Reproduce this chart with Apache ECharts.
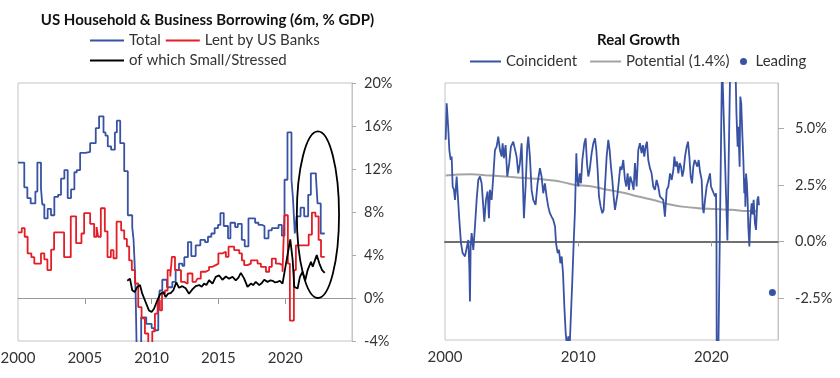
<!DOCTYPE html>
<html><head><meta charset="utf-8">
<script src="https://cdn.jsdelivr.net/npm/echarts@6/dist/echarts.min.js"></script>
<style>html,body{margin:0;padding:0;background:#fff}#c{width:840px;height:378px}</style>
</head><body><div id="c"></div>
<script>
// ---------- Left chart: US Household & Business Borrowing (6m, % GDP) ----------
const leftXLabels = [2000, 2005, 2010, 2015, 2020];
const leftXTicks = [2005, 2010, 2015, 2020];
const totalData = [[2000.0,12.6],[2000.47,10.3],[2000.7,9.3],[2000.95,8.8],[2001.3,9.9],[2001.45,12.6],[2001.72,10.2],[2001.82,8.7],[2001.97,7.4],[2002.22,8.3],[2002.47,7.7],[2002.72,9.4],[2003.0,9.6],[2003.22,11.1],[2003.47,11.9],[2003.72,9.3],[2003.97,10.1],[2004.22,11.7],[2004.4,11.9],[2004.65,13.5],[2005.05,13.6],[2005.4,14.4],[2005.82,15.8],[2006.07,16.9],[2006.4,15.4],[2006.55,15.1],[2006.72,14.1],[2006.97,13.8],[2007.25,15.4],[2007.4,16.5],[2007.65,14.4],[2007.95,11.8],[2008.22,7.7],[2008.55,6.6],[2008.65,5.4],[2008.72,3.5],[2008.8,0.7],[2008.9,-6],[2009.22,-1.8],[2009.6,-2.4],[2010.0,-2.8],[2010.2,-3.0],[2010.5,-0.9],[2010.6,0.7],[2010.8,1.7],[2011.15,1.0],[2011.55,1.5],[2011.8,2.6],[2012.05,3.2],[2012.3,3.0],[2012.45,3.8],[2012.72,5.2],[2012.97,3.9],[2013.3,4.9],[2013.65,5.4],[2014.0,5.2],[2014.22,5.7],[2014.47,6.0],[2014.72,6.5],[2014.97,6.8],[2015.15,7.9],[2015.4,6.7],[2015.72,5.55],[2015.9,7.0],[2016.25,6.6],[2016.45,6.9],[2016.75,5.4],[2016.97,4.8],[2017.25,7.4],[2017.75,7.0],[2018.0,6.8],[2018.25,6.7],[2018.45,5.55],[2018.75,6.3],[2019.0,6.5],[2019.5,6.8],[2019.75,5.8],[2019.95,11.0],[2020.17,15.4],[2020.47,11.0],[2020.58,9.3],[2020.72,6.0],[2020.85,7.6],[2021.15,8.4],[2021.42,7.6],[2021.72,9.6],[2021.92,11.6],[2022.3,11.3],[2022.42,8.8],[2022.66,6.0],[2022.96,6.0]];
const banksData = [[2000.0,6.1],[2000.28,6.5],[2000.5,5.7],[2000.72,4.15],[2001.0,3.8],[2001.22,3.2],[2001.72,4.15],[2001.97,3.6],[2002.2,2.6],[2002.48,4.5],[2002.7,6.1],[2003.45,3.8],[2003.95,7.6],[2004.35,5.1],[2004.75,6.0],[2004.95,7.9],[2005.4,6.9],[2005.7,5.7],[2005.88,6.6],[2006.0,5.7],[2006.2,8.35],[2006.5,6.2],[2006.7,3.8],[2006.95,4.45],[2007.15,3.7],[2007.38,7.1],[2007.72,6.3],[2007.95,5.5],[2008.15,4.8],[2008.32,3.5],[2008.52,2.6],[2008.75,1.35],[2009.0,-0.84],[2009.25,-1.9],[2009.5,-3.3],[2009.75,-5.5],[2010.05,-3.1],[2010.25,-1.46],[2010.45,-0.2],[2010.62,-1.15],[2010.78,0.4],[2011.0,0.7],[2011.2,2.6],[2011.4,2.0],[2011.52,3.83],[2011.75,2.6],[2012.0,2.6],[2012.2,1.5],[2012.45,1.34],[2012.7,2.28],[2013.06,1.5],[2013.3,1.34],[2013.43,1.8],[2013.68,2.44],[2014.06,2.6],[2014.3,2.9],[2014.56,3.06],[2014.8,3.2],[2015.0,4.15],[2015.3,4.3],[2015.56,3.83],[2015.76,4.77],[2016.18,4.46],[2016.56,4.15],[2016.76,3.5],[2016.93,3.06],[2017.18,3.2],[2017.43,3.5],[2017.93,3.2],[2018.18,2.9],[2018.56,2.44],[2018.8,2.9],[2019.0,3.67],[2019.3,3.2],[2019.56,3.06],[2019.8,2.44],[2019.94,7.7],[2020.2,3.2],[2020.35,-2.1],[2020.65,2.6],[2020.8,4.9],[2021.76,5.9],[2022.0,7.95],[2022.26,7.6],[2022.5,5.4],[2022.68,3.83],[2022.96,3.83]];
const stressedData = [[2008.18,1.6],[2008.38,1.8],[2008.55,0.72],[2008.73,0.56],[2008.93,1.03],[2009.13,1.2],[2009.3,0.4],[2009.55,-0.37],[2009.8,-1.15],[2010.0,-1.3],[2010.18,-1.0],[2010.38,-0.37],[2010.63,0.34],[2010.88,0.56],[2011.05,0.09],[2011.23,0.4],[2011.43,0.45],[2011.63,0.72],[2011.85,1.45],[2012.05,0.95],[2012.3,1.1],[2012.55,0.9],[2012.8,0.4],[2013.05,0.8],[2013.3,1.1],[2013.56,1.2],[2013.75,1.05],[2013.93,1.34],[2014.1,1.2],[2014.3,1.65],[2014.56,1.34],[2014.8,1.97],[2015.06,2.1],[2015.3,1.7],[2015.56,2.0],[2015.8,1.8],[2016.06,1.97],[2016.3,1.65],[2016.5,1.9],[2016.68,2.34],[2016.93,1.8],[2017.18,1.03],[2017.43,1.34],[2017.6,1.2],[2017.8,1.5],[2018.06,1.2],[2018.25,1.4],[2018.43,1.7],[2018.68,1.5],[2018.9,1.65],[2019.06,1.6],[2019.25,1.45],[2019.43,1.5],[2019.6,1.6],[2019.8,1.34],[2020.06,3.2],[2020.38,5.46],[2020.56,3.5],[2020.68,1.03],[2020.93,0.88],[2021.1,1.97],[2021.3,2.44],[2021.5,1.65],[2021.68,2.6],[2021.93,3.37],[2022.06,2.9],[2022.36,3.99],[2022.56,3.2],[2022.76,2.6],[2022.96,2.34]];
// highlight ellipse: [centre year, centre value, half-width (years), half-height (pp)]
const ellipseData = [[2022.45, 7.75, 1.58, 7.75]];

// ---------- Right chart: Real Growth ----------
const rightXLabels = [2000, 2010, 2020];
const rightXTicks = [2010, 2020];
const rightYTicks = [-2.5, 0, 2.5, 5];
const coincidentData = [[2000.05,4.49],[2000.125,6.10],[2000.175,5.66],[2000.25,4.93],[2000.325,4.04],[2000.425,3.60],[2000.5,3.75],[2000.575,2.43],[2000.675,2.28],[2000.75,1.84],[2000.875,2.87],[2000.95,2.13],[2001.075,0.96],[2001.2,-0.07],[2001.325,-0.51],[2001.5,-0.66],[2001.625,-0.29],[2001.75,0.07],[2001.825,-1.10],[2001.875,-2.65],[2001.925,-0.22],[2002.0,0.37],[2002.125,-0.37],[2002.25,0.66],[2002.375,1.84],[2002.5,2.72],[2002.625,2.87],[2002.75,2.57],[2002.875,1.54],[2002.95,0.88],[2003.075,1.84],[2003.2,2.21],[2003.3,1.03],[2003.375,2.28],[2003.5,1.84],[2003.625,2.87],[2003.75,4.04],[2003.875,4.19],[2004.0,4.63],[2004.125,4.04],[2004.25,3.75],[2004.325,4.34],[2004.425,3.68],[2004.55,4.26],[2004.675,2.87],[2004.825,3.46],[2004.95,4.19],[2005.125,4.41],[2005.25,4.49],[2005.375,3.75],[2005.5,3.01],[2005.625,3.46],[2005.75,4.34],[2005.825,3.01],[2005.925,1.03],[2006.05,2.43],[2006.175,4.19],[2006.25,4.63],[2006.375,3.75],[2006.5,2.28],[2006.625,1.84],[2006.8,1.62],[2006.95,2.57],[2007.125,3.24],[2007.25,2.87],[2007.375,2.13],[2007.5,2.57],[2007.625,1.99],[2007.75,1.54],[2007.875,1.25],[2008.0,1.10],[2008.125,0.96],[2008.26,0.66],[2008.335,-0.07],[2008.46,-0.51],[2008.56,-0.37],[2008.66,-0.96],[2008.76,-0.66],[2008.86,-1.40],[2008.96,-2.87],[2009.06,-4.04],[2009.16,-4.63],[2009.26,-4.19],[2009.36,-4.63],[2009.46,-3.16],[2009.56,-1.69],[2009.66,-0.07],[2009.76,1.40],[2009.86,3.90],[2009.935,2.72],[2010.01,2.43],[2010.11,3.01],[2010.21,2.57],[2010.31,3.60],[2010.46,4.34],[2010.56,4.56],[2010.66,3.46],[2010.76,2.87],[2010.86,3.16],[2011.01,3.90],[2011.135,4.34],[2011.26,4.56],[2011.36,4.04],[2011.46,3.16],[2011.56,1.99],[2011.685,1.54],[2011.81,1.25],[2011.91,1.40],[2012.01,2.43],[2012.135,3.75],[2012.26,4.49],[2012.36,4.04],[2012.46,3.31],[2012.56,2.72],[2012.66,1.99],[2012.76,1.40],[2012.86,1.32],[2012.96,2.13],[2013.06,2.72],[2013.16,3.31],[2013.26,3.16],[2013.385,3.60],[2013.51,2.72],[2013.61,2.43],[2013.71,3.01],[2013.81,2.28],[2013.91,2.87],[2014.06,2.57],[2014.16,2.28],[2014.26,3.46],[2014.385,2.43],[2014.51,4.04],[2014.635,4.34],[2014.76,3.90],[2014.86,4.26],[2014.96,3.75],[2015.06,4.19],[2015.16,4.41],[2015.26,3.60],[2015.385,3.24],[2015.51,3.01],[2015.635,2.43],[2015.76,2.28],[2015.885,2.72],[2016.01,2.43],[2016.135,1.99],[2016.26,2.06],[2016.385,1.84],[2016.51,1.10],[2016.645,2.28],[2016.77,2.43],[2016.895,3.01],[2017.02,2.72],[2017.145,3.16],[2017.22,3.75],[2017.32,3.31],[2017.42,3.53],[2017.52,3.01],[2017.62,3.46],[2017.72,3.31],[2017.82,2.87],[2017.92,3.16],[2018.02,3.75],[2018.145,4.19],[2018.245,4.41],[2018.345,3.75],[2018.445,2.87],[2018.545,2.57],[2018.645,3.31],[2018.745,3.60],[2018.845,3.46],[2018.945,3.31],[2019.045,3.60],[2019.145,3.09],[2019.27,2.72],[2019.345,1.54],[2019.42,1.25],[2019.52,1.84],[2019.645,2.43],[2019.77,2.72],[2019.895,3.01],[2019.97,2.43],[2020.07,2.28],[2020.17,2.13],[2020.27,1.99],[2020.345,2.13],[2020.38,0.5],[2020.41,-8],[2020.5,-8],[2020.52,-5],[2020.8,8],[2020.93,8],[2021.2,0.05],[2021.42,8],[2021.8,8],[2021.88,5.66],[2021.97,4.19],[2022.02,5.07],[2022.07,4.2],[2022.12,3.3],[2022.17,6.4],[2022.24,6.1],[2022.32,4.78],[2022.4,3.6],[2022.47,2.13],[2022.52,2.8],[2022.55,1.54],[2022.6,3.0],[2022.66,2.6],[2022.72,1.84],[2022.77,0.66],[2022.85,-0.22],[2022.92,0.96],[2023.02,1.69],[2023.1,1.2],[2023.17,1.84],[2023.27,0.8],[2023.35,0.51],[2023.45,1.84],[2023.52,1.99],[2023.57,1.6]];
const potentialData = [[2000.05,2.91],[2001.0,2.96],[2002.0,2.97],[2003.0,2.93],[2004.5,2.87],[2006.0,2.8],[2007.1,2.76],[2008.3,2.68],[2009.0,2.6],[2009.8,2.5],[2010.8,2.45],[2012.0,2.31],[2013.3,2.16],[2014.5,1.99],[2015.8,1.81],[2016.5,1.69],[2017.0,1.62],[2017.8,1.54],[2019.0,1.47],[2020.3,1.43],[2021.5,1.4],[2022.8,1.35],[2023.4,1.35]];
const leadingData = [[2024.58, -2.25]];

const BLUE = '#3953a4', RED = '#e41e26', BLACK = '#000000', GREY = '#a3a3a3';
const FONT = 'Lato';
const xText = {fontFamily: FONT, fontSize: 15, color: '#333'};
const yText = {fontFamily: FONT, fontSize: 14.5, color: '#333'};
const legendText = {fontFamily: FONT, fontSize: 15, color: '#333'};
const borderCol = '#c4c4c4';

const chart = echarts.init(document.getElementById('c'), null, {renderer: 'canvas'});
chart.setOption({
  animation: false,
  backgroundColor: '#fff',
  graphic: [
    {type: 'text', x: 207.5, y: 20.5, style: {text: 'US Household & Business Borrowing (6m, % GDP)', align: 'center', verticalAlign: 'middle', fontFamily: FONT, fontSize: 15, fontWeight: 'bold', fill: '#111'}},
    {type: 'text', x: 638.5, y: 40.5, style: {text: 'Real Growth', align: 'center', verticalAlign: 'middle', fontFamily: FONT, fontSize: 15, fontWeight: 'bold', fill: '#111'}}
  ],
  legend: [
    {data: ['Total', 'Lent by US Banks'], left: 90, top: 33, padding: 0, icon: 'rect', itemWidth: 34, itemHeight: 2, itemGap: 5, selectedMode: false, textStyle: legendText},
    {data: ['of which Small/Stressed'], left: 90, top: 53, padding: 0, icon: 'rect', itemWidth: 34, itemHeight: 2, selectedMode: false, textStyle: legendText},
    {data: ['Coincident', 'Potential (1.4%)'], left: 470, top: 54, padding: 0, icon: 'rect', itemWidth: 31, itemHeight: 2, itemGap: 13, selectedMode: false, textStyle: legendText},
    {data: ['Leading'], left: 740, top: 54, padding: 0, icon: 'circle', itemWidth: 14, itemHeight: 7, selectedMode: false, textStyle: legendText}
  ],
  grid: [
    {left: 18, top: 83, width: 334, height: 258, show: true, borderColor: borderCol, borderWidth: 1, containLabel: false, outerBoundsMode: 'none'},
    {left: 445, top: 83, width: 333, height: 257, show: true, borderColor: borderCol, borderWidth: 1, containLabel: false, outerBoundsMode: 'none'}
  ],
  xAxis: [
    {gridIndex: 0, type: 'value', min: 2000, max: 2025, position: 'bottom',
     axisLine: {show: false, onZero: false}, axisTick: {show: false}, splitLine: {show: false},
     axisLabel: Object.assign({customValues: leftXLabels, margin: 10, formatter: v => String(v)}, xText)},
    {gridIndex: 0, type: 'value', min: 2000, max: 2025, position: 'top',
     axisLine: {show: true, onZero: true, lineStyle: {color: '#9a9a9a', width: 1}},
     axisTick: {show: true, inside: true, length: 6, customValues: leftXTicks, lineStyle: {color: '#9a9a9a'}},
     axisLabel: {show: false}, splitLine: {show: false}},
    {gridIndex: 1, type: 'value', min: 2000, max: 2025, position: 'bottom',
     axisLine: {show: false, onZero: false}, axisTick: {show: false}, splitLine: {show: false},
     axisLabel: Object.assign({customValues: rightXLabels, margin: 10, formatter: v => String(v)}, xText)},
    {gridIndex: 1, type: 'value', min: 2000, max: 2025, position: 'top',
     axisLine: {show: true, onZero: true, lineStyle: {color: '#707070', width: 2}},
     axisTick: {show: true, inside: true, length: 5, customValues: rightXTicks, lineStyle: {color: '#9a9a9a'}},
     axisLabel: {show: false}, splitLine: {show: false}}
  ],
  yAxis: [
    {gridIndex: 0, type: 'value', position: 'right', min: -4, max: 20, interval: 4,
     axisLine: {show: true, onZero: false, lineStyle: {color: borderCol}},
     axisTick: {show: true, length: 4, lineStyle: {color: '#aaa'}},
     axisLabel: Object.assign({margin: 12, formatter: '{value}%'}, yText), splitLine: {show: false}},
    {gridIndex: 1, type: 'value', position: 'right', min: -4.35, max: 7,
     axisLine: {show: true, onZero: false, lineStyle: {color: borderCol}},
     axisTick: {show: true, length: 6, customValues: rightYTicks, lineStyle: {color: '#aaa'}},
     axisLabel: Object.assign({margin: 17, customValues: rightYTicks, formatter: v => v.toFixed(1) + '%'}, yText), splitLine: {show: false}}
  ],
  series: [
    {name: 'Total', type: 'line', xAxisIndex: 0, yAxisIndex: 0, data: totalData, step: 'end', symbol: 'none', lineStyle: {color: BLUE, width: 1.8}, itemStyle: {color: BLUE}, z: 3},
    {name: 'Lent by US Banks', type: 'line', xAxisIndex: 0, yAxisIndex: 0, data: banksData, step: 'end', symbol: 'none', lineStyle: {color: RED, width: 1.8}, itemStyle: {color: RED}, z: 4},
    {name: 'of which Small/Stressed', type: 'line', xAxisIndex: 0, yAxisIndex: 0, data: stressedData, symbol: 'none', lineStyle: {color: BLACK, width: 1.8}, itemStyle: {color: BLACK}, z: 5},
    {type: 'custom', xAxisIndex: 0, yAxisIndex: 0, data: ellipseData, silent: true, z: 6,
     renderItem: function (params, api) {
       const c = api.coord([api.value(0), api.value(1)]);
       const e = api.coord([api.value(0) + api.value(2), api.value(1) + api.value(3)]);
       return {type: 'ellipse', shape: {cx: c[0], cy: c[1], rx: Math.abs(e[0] - c[0]), ry: Math.abs(e[1] - c[1])},
               style: {fill: 'none', stroke: '#000', lineWidth: 1.8}};
     }},
    {name: 'Potential (1.4%)', type: 'line', xAxisIndex: 2, yAxisIndex: 1, data: potentialData, smooth: true, symbol: 'none', lineStyle: {color: GREY, width: 2}, itemStyle: {color: GREY}, z: 3},
    {name: 'Coincident', type: 'line', xAxisIndex: 2, yAxisIndex: 1, data: coincidentData, symbol: 'none', lineStyle: {color: BLUE, width: 1.8}, itemStyle: {color: BLUE}, z: 4},
    {name: 'Leading', type: 'scatter', xAxisIndex: 2, yAxisIndex: 1, data: leadingData, symbol: 'circle', symbolSize: 7, itemStyle: {color: BLUE, opacity: 1}, z: 5}
  ]
});
</script>
</body></html>
